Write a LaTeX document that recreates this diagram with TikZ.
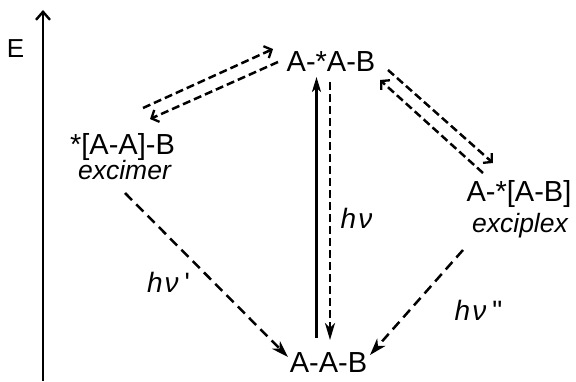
\documentclass[tikz,border=0pt]{standalone}
\usepackage{fontspec}
\setmainfont{Liberation Sans}
\newfontfamily\qfont{Liberation Sans}[Ligatures=TeXOff]
\usetikzlibrary{arrows.meta}
\begin{document}
\begin{tikzpicture}[x=1pt,y=1pt,
  lbl/.style={inner sep=0pt,anchor=base,font=\fontsize{29}{30}\selectfont},
  ital/.style={inner sep=0pt,anchor=base,font=\fontsize{26.5}{28}\selectfont\itshape},
  hvl/.style={inner sep=0pt,anchor=base,font=\fontsize{28}{28}\selectfont\itshape},
  dsh/.style={line width=2.5pt,dash pattern=on 8pt off 4pt},
  dshlong/.style={line width=2.5pt,dash pattern=on 10pt off 6pt},
  openhead/.style={-{Straight Barb[length=6pt,width=13pt,line width=2.3pt]}},
  fillhead/.style={-{Stealth[length=17pt,width=11pt,inset=5pt]}},
]
\useasboundingbox (0,0) rectangle (576,381);
% labels
\node[lbl] (top) at (331,309) {A-*A-B};
\node[lbl] (exm) at (122.5,226) {*[A-A]-B};
\node[ital] (exml) at (124.5,201) {excimer};
\node[lbl] (exc) at (519,179) {A-*[A-B]};
\node[ital] (excl) at (520,149) {exciplex};
\node[lbl] (gnd) at (328.5,9) {A-A-B};
\node[hvl] (hv1) at (356.5,153) {h\kern2pt ν};
\node[hvl] (hv2) at (168.5,89) {h\kern2pt ν\kern6pt{\qfont\upshape '}};
\node[hvl] (hv3) at (478.5,61) {h\kern2pt ν\kern6pt{\qfont\upshape "}};
\node[inner sep=0pt,anchor=base,font=\fontsize{26}{28}\selectfont] (E) at (15.5,323) {E};
% coordinates
\coordinate (a1s) at (143,273); \coordinate (a1e) at (273,332);
\coordinate (a2s) at (278,319); \coordinate (a2e) at (150,262);
\coordinate (a3s) at (388,311); \coordinate (a3e) at (493,218);
\coordinate (a4s) at (483,208); \coordinate (a4e) at (380,301);
\coordinate (a5s) at (316.5,43); \coordinate (a5e) at (316.5,304);
\coordinate (a6s) at (330,299); \coordinate (a6e) at (330,41);
\coordinate (a7s) at (125,188); \coordinate (a7e) at (288,24);
\coordinate (a8s) at (463,131); \coordinate (a8e) at (370,26);
\coordinate (ax0) at (43,0); \coordinate (ax1) at (43,371);
% arrows
\draw[dsh,openhead] (a1s) -- (a1e);
\draw[dsh,openhead] (a2s) -- (a2e);
\draw[dsh,openhead] (a3s) -- (a3e);
\draw[dsh,openhead] (a4s) -- (a4e);
\draw[line width=2.4pt,-{Stealth[length=15pt,width=9pt,inset=4pt]}] (a5s) -- (a5e);
\draw[dsh,-{Stealth[length=17pt,width=10pt,inset=5pt]}] (a6s) -- (a6e);
\draw[dshlong,fillhead] (a7s) -- (a7e);
\draw[dshlong,fillhead] (a8s) -- (a8e);
\draw[line width=2.4pt,-{Straight Barb[length=8pt,width=14pt,line width=2.4pt]}] (ax0) -- (ax1);
\end{tikzpicture}
\end{document}
